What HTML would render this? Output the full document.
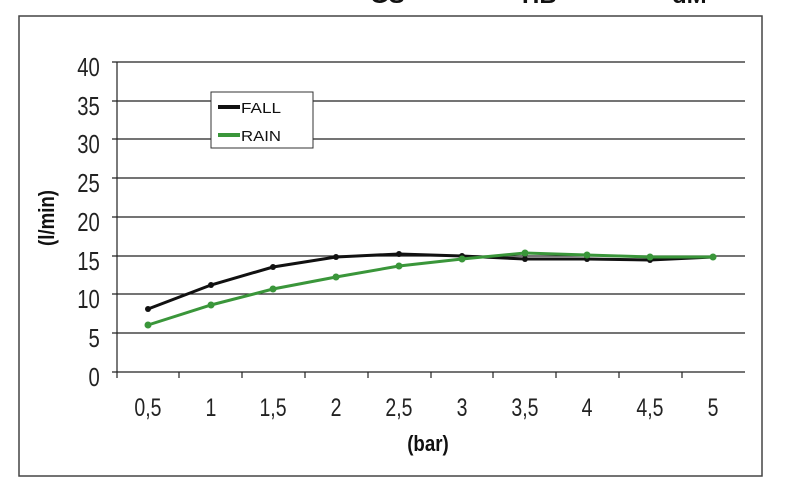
<!DOCTYPE html>
<html><head><meta charset="utf-8"><style>
body{margin:0;background:#fff;}
svg{display:block;font-family:"Liberation Sans",sans-serif;}
</style></head><body>
<svg width="800" height="488" viewBox="0 0 800 488">
<rect width="800" height="488" fill="#fff"/>
<g font-weight="bold" font-size="24" fill="#111">
<text x="370" y="3">GS</text><text x="522" y="3">HB</text><text x="672" y="3">dM</text>
</g>
<rect x="19" y="16" width="743" height="460" fill="#fff" stroke="#444" stroke-width="1.5"/>
<g stroke="#222" stroke-width="1.2">
<line x1="112" y1="62" x2="745" y2="62"/><line x1="112" y1="101" x2="745" y2="101"/>
<line x1="112" y1="139" x2="745" y2="139"/><line x1="112" y1="178" x2="745" y2="178"/>
<line x1="112" y1="217" x2="745" y2="217"/><line x1="112" y1="256" x2="745" y2="256"/>
<line x1="112" y1="294" x2="745" y2="294"/><line x1="112" y1="333" x2="745" y2="333"/>
<line x1="112" y1="372" x2="745" y2="372"/>
<line x1="117" y1="62" x2="117" y2="378"/>
<line x1="179" y1="372" x2="179" y2="378"/><line x1="242" y1="372" x2="242" y2="378"/>
<line x1="305" y1="372" x2="305" y2="378"/><line x1="368" y1="372" x2="368" y2="378"/>
<line x1="431" y1="372" x2="431" y2="378"/><line x1="493" y1="372" x2="493" y2="378"/>
<line x1="556" y1="372" x2="556" y2="378"/><line x1="619" y1="372" x2="619" y2="378"/>
<line x1="682" y1="372" x2="682" y2="378"/>
</g>
<g font-size="26" fill="#222" text-anchor="end" transform="scale(0.78,1)">
<text x="128" y="76">40</text><text x="128" y="115">35</text><text x="128" y="153">30</text>
<text x="128" y="192">25</text><text x="128" y="231">20</text><text x="128" y="270">15</text>
<text x="128" y="308">10</text><text x="128" y="347">5</text><text x="128" y="386">0</text>
</g>
<g font-size="25" fill="#222" text-anchor="middle" transform="scale(0.78,1)">
<text x="189.7" y="416">0,5</text><text x="270.5" y="416">1</text><text x="350" y="416">1,5</text>
<text x="430.8" y="416">2</text><text x="511.5" y="416">2,5</text><text x="592.3" y="416">3</text>
<text x="673" y="416">3,5</text><text x="752.6" y="416">4</text><text x="833.3" y="416">4,5</text>
<text x="914.1" y="416">5</text>
</g>
<g transform="scale(0.85,1)"><text x="503.5" y="451" font-size="22" font-weight="bold" text-anchor="middle" fill="#111">(bar)</text></g>
<text transform="translate(54,218) rotate(-90) scale(0.85,1)" font-size="22" font-weight="bold" text-anchor="middle" fill="#111">(l/min)</text>
<polyline fill="none" stroke="#111" stroke-width="3" points="148,309 211,285 273,267 336,257 399,254 462,256 525,259 587,259 650,260 713,257"/>
<polyline fill="none" stroke="#3a963a" stroke-width="3" points="148,325 211,305 273,289 336,277 399,266 462,259 525,253 587,255 650,257 713,257"/>
<g fill="#111">
<circle cx="148" cy="309" r="3"/><circle cx="211" cy="285" r="3"/><circle cx="273" cy="267" r="3"/><circle cx="336" cy="257" r="3"/><circle cx="399" cy="254" r="3"/><circle cx="462" cy="256" r="3"/><circle cx="525" cy="259" r="3"/><circle cx="587" cy="259" r="3"/><circle cx="650" cy="260" r="3"/><circle cx="713" cy="257" r="3"/>
</g>
<g fill="#3a963a">
<circle cx="148" cy="325" r="3.5"/><circle cx="211" cy="305" r="3.5"/><circle cx="273" cy="289" r="3.5"/><circle cx="336" cy="277" r="3.5"/><circle cx="399" cy="266" r="3.5"/><circle cx="462" cy="259" r="3.5"/><circle cx="525" cy="253" r="3.5"/><circle cx="587" cy="255" r="3.5"/><circle cx="650" cy="257" r="3.5"/><circle cx="713" cy="257" r="3.5"/>
</g>
<rect x="211" y="92" width="102" height="56" fill="#fff" stroke="#333" stroke-width="1"/>
<line x1="218" y1="107" x2="240" y2="107" stroke="#111" stroke-width="4"/>
<line x1="218" y1="135" x2="240" y2="135" stroke="#3a963a" stroke-width="4"/>
<g font-size="15" fill="#111">
<text x="241" y="113" textLength="40" lengthAdjust="spacingAndGlyphs">FALL</text>
<text x="241" y="141" textLength="40" lengthAdjust="spacingAndGlyphs">RAIN</text>
</g>
</svg>
</body></html>
